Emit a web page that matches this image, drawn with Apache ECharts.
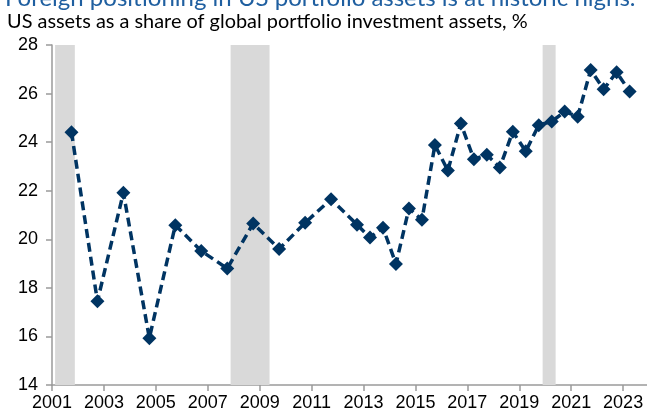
<!DOCTYPE html>
<html>
<head>
<meta charset="utf-8">
<script src="https://cdn.jsdelivr.net/npm/echarts@6/dist/echarts.min.js"></script>
<style>
  html, body { margin: 0; padding: 0; background: #fff; }
  #chart { width: 647px; height: 416px; }
</style>
</head>
<body>
<div id="chart"></div>
<script>
// periods as decimal years (annual to 2012, then half-yearly)
const periods = [2001.75, 2002.75, 2003.75, 2004.75, 2005.75, 2006.75, 2007.75, 2008.75, 2009.75, 2010.75, 2011.75, 2012.75,
  2013.25, 2013.75, 2014.25, 2014.75, 2015.25, 2015.75, 2016.25, 2016.75, 2017.25, 2017.75, 2018.25, 2018.75,
  2019.25, 2019.75, 2020.25, 2020.75, 2021.25, 2021.75, 2022.25, 2022.75, 2023.25]
const usShare = [24.41, 17.45, 21.92, 15.93, 20.58, 19.52, 18.8, 20.65, 19.6, 20.68, 21.65, 20.6,
  20.07, 20.48, 18.98, 21.27, 20.8, 23.88, 22.83, 24.77, 23.3, 23.48, 22.96, 24.43,
  23.62, 24.7, 24.85, 25.26, 25.05, 26.97, 26.18, 26.88, 26.09]
const recessions = [[2001.12, 2001.88], [2007.88, 2009.38], [2019.9, 2020.4]]
const xTicks = [2001, 2003, 2005, 2007, 2009, 2011, 2013, 2015, 2017, 2019, 2021, 2023]

const chart = echarts.init(document.getElementById('chart'))
const axisGray = '#9a9a9a'
const option = {
  animation: false,
  title: [
    {
      text: 'Foreign positioning in US portfolio assets is at historic highs.',
      left: 0,
      top: -19,
      textStyle: { color: '#1f5fa0', fontFamily: 'Lato', fontSize: 24, fontWeight: 'normal' },
    },
    {
      text: 'US assets as a share of global portfolio investment assets, %',
      left: 2,
      top: 7,
      textStyle: { color: '#000', fontFamily: 'Lato', fontSize: 19.9, fontWeight: 'normal' },
    },
  ],
  grid: { left: 52, right: 0, top: 45, bottom: 31, containLabel: false },
  xAxis: {
    type: 'value',
    min: 2001,
    max: 2023.92,
    interval: 2,
    splitLine: { show: false },
    axisLine: { lineStyle: { color: axisGray, width: 1.5 } },
    axisTick: { show: true, length: 6, customValues: xTicks, lineStyle: { color: axisGray, width: 1.5 } },
    axisLabel: {
      customValues: xTicks,
      color: '#000',
      fontFamily: 'Liberation Sans',
      fontSize: 18,
      margin: 9,
      formatter: (v) => String(v),
    },
  },
  yAxis: {
    type: 'value',
    min: 14,
    max: 28,
    interval: 2,
    splitLine: { show: false },
    axisLine: { show: true, lineStyle: { color: axisGray, width: 1.5 } },
    axisTick: { show: true, length: 6, lineStyle: { color: axisGray, width: 1.5 } },
    axisLabel: { color: '#000', fontFamily: 'Liberation Sans', fontSize: 18, margin: 14 },
  },
  series: [
    {
      type: 'line',
      data: periods.map((p, i) => [p, usShare[i]]),
      symbol: 'diamond',
      symbolSize: 14,
      itemStyle: { color: '#003462' },
      lineStyle: { color: '#003462', width: 3.5, type: [9, 5] },
      markArea: {
        silent: true,
        itemStyle: { color: '#d9d9d9' },
        data: recessions.map((r) => [{ xAxis: r[0] }, { xAxis: r[1] }]),
      },
    },
  ],
}
chart.setOption(option)
</script>
</body>
</html>
